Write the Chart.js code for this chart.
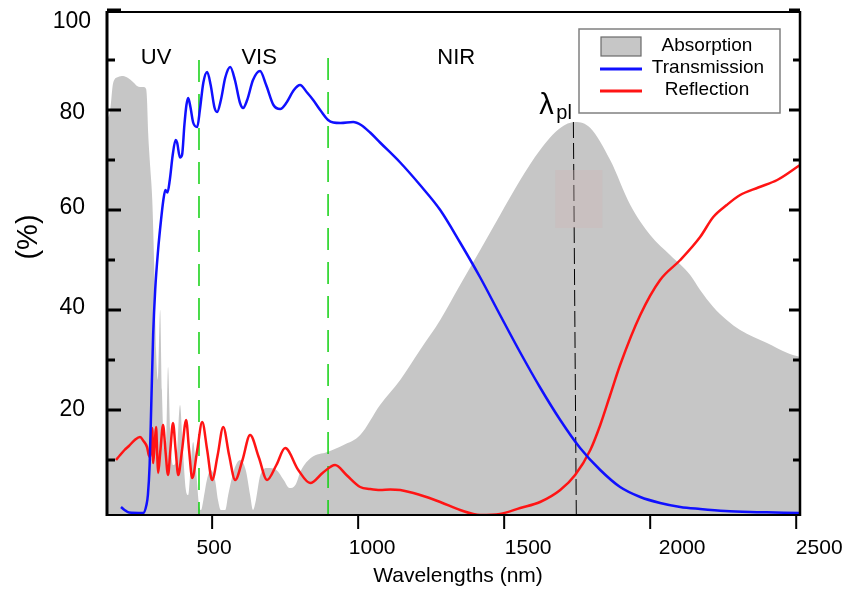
<!DOCTYPE html>
<html><head><meta charset="utf-8">
<script src="https://cdn.jsdelivr.net/npm/chart.js@4/dist/chart.umd.min.js"></script>
<style>html,body{margin:0;padding:0;background:#fff}#wrap{width:848px;height:594px;position:relative}</style>
</head><body><div id="wrap"><canvas id="c" width="848" height="594"></canvas></div>
<script>
// ---- data ----
const absWl  = [140,151,161,178,195,212,229,243,253,264,274,277,281,288,295,302,308,314,322,328,336,343,349,356,366,378,390,400,410,418,428,435,445,455,462,470,482,495,510,520,530,545,555,575,596,615,630,640,650,665,690,720,745,765,785,805,840,894,950,1007,1075,1144,1212,1281,1349,1418,1486,1555,1623,1692,1743,1795,1863,1932,2000,2068,2137,2171,2216,2262,2308,2400,2470,2513];
const absVal = [78,80,85.4,86.6,86.8,86.4,85.6,84.8,84.6,84.6,84.2,82,75.4,68.6,62,48,32,26,40,24,12,14,28.6,16,9,10,21,12,4,3,10,13.6,8,1,0,2,6,8,6,2,0,0,3,8,10,8,3,0,2,7,8.4,8,6,4.4,5,8,10.5,11.6,13,15,21,26,32,38,45,52,59,66,72,76.4,77.6,76.4,70,61,55,51,47,44,40.6,38,36,33.4,31.4,30.6];

const transWl  = [188,200,215,264,275,280,286,292,298,305,315,325,333,340,347,355,365,375,380,390,397,405,412,418,426,435,449,458,470,483,495,508,517,530,545,562,578,595,606,620,640,664,685,710,733,755,780,801,825,846,870,897,915,940,983,1010,1041,1075,1144,1212,1281,1349,1418,1486,1555,1623,1692,1760,1829,1897,1966,2034,2103,2171,2257,2342,2428,2513];
const transVal = [0.6,0,-0.5,-0.6,1,3,9,22,35,44,52,58,62,64,63.5,66,71,74,73.5,70.5,71,77,81,82.4,80.5,77.5,76.6,80,85.5,87.6,85,80.5,79.6,82,86.5,88.6,86,81.5,80.4,82,86,87.8,85,81,80.2,81.5,84,85,83.5,82,80,78,77.5,77.4,77.6,77,75.5,73.5,69.5,65,60,53.5,46.5,39,31.5,24.5,18,12.4,8,4.6,2.6,1.4,0.6,0.2,-0.2,-0.4,-0.5,-0.6];

const reflWl  = [171,185,200,215,235,253,265,277,283,288,291,295,298,303,308,312,315,323,332,340,349,357,366,375,384,397,411,421,432,449,466,483,500,519,538,558,579,604,630,660,688,720,750,795,836,880,921,960,1007,1041,1075,1110,1144,1212,1281,1349,1418,1486,1555,1623,1692,1743,1795,1829,1863,1897,1966,2034,2103,2171,2216,2262,2308,2370,2435,2513];
const reflVal = [10,11,12,12.8,14,14.6,13.8,12.6,11,10.6,13,16.4,9.4,13,16.6,11,7.4,12,17,12,7,12,17.4,12,7,12,18,12,6.4,12,17.6,12,6,11,16.6,11,6,10,15,10.5,6,9,12.4,8,5.4,7.5,9,7,4.6,4.2,4,4.1,4,3,1.6,0,-1,-0.8,0.4,1.6,4,7,12,17,23,29,39,46,50,54.6,58.6,61,63,64.5,66,69];

const seriesNames = ['Absorption','Transmission','Reflection'];
const xTicks = [500,1000,1500,2000,2500];
const yTicks = [20,40,60,80,100];
const yMinorTicks = [10,30,50,70,90];
const regionNames = ['UV','VIS','NIR'];
const regionBounds = [455, 897];     // nm, VIS limits
const peakWl = 1740, peakVal = 77.6; // λpl

// ---- styling / layout (not data) ----
const C_ABS = '#c6c6c6', C_T = '#1010ff', C_R = '#ff1414', C_G = '#10d010';
const FONT = '"Liberation Sans", Arial, sans-serif';
const regionLabelWl = [308, 661, 1336], regionLabelVal = 90.4;
const xLabelDx = [2, 14, 24, 32, 23];
const yLabelDx = [0, 0, 0, 0, 6], yLabelDy = [0, -2, -2, 3, 12];
const boxWl = [1675, 1836], boxVal = [68, 56.4];

const pts = (xs, ys) => xs.map((x, i) => ({x, y: ys[i]}));

const deco = {
  id: 'deco',
  afterDatasetsDraw(chart) {
    const ctx = chart.ctx, a = chart.chartArea, xs = chart.scales.x, ys = chart.scales.y;
    ctx.save();
    // faint box near the peak
    ctx.fillStyle = 'rgba(205,180,180,0.35)';
    const bx1 = xs.getPixelForValue(boxWl[0]), bx2 = xs.getPixelForValue(boxWl[1]);
    const by1 = ys.getPixelForValue(boxVal[0]), by2 = ys.getPixelForValue(boxVal[1]);
    ctx.fillRect(bx1, by1, bx2 - bx1, by2 - by1);
    // frame
    ctx.strokeStyle = '#000';
    ctx.lineWidth = 2;
    ctx.beginPath(); ctx.moveTo(a.left, a.top); ctx.lineTo(a.right, a.top); ctx.stroke();
    ctx.beginPath(); ctx.moveTo(a.left, a.bottom); ctx.lineTo(a.right, a.bottom); ctx.stroke();
    ctx.lineWidth = 3;
    ctx.beginPath(); ctx.moveTo(a.left, a.top - 1); ctx.lineTo(a.left, a.bottom + 1); ctx.stroke();
    ctx.lineWidth = 2.5;
    ctx.beginPath(); ctx.moveTo(a.right, a.top - 1); ctx.lineTo(a.right, a.bottom + 1); ctx.stroke();
    // y ticks (inward) both sides
    ctx.lineWidth = 3;
    yTicks.forEach(v => {
      const y = ys.getPixelForValue(v);
      ctx.beginPath(); ctx.moveTo(a.left, y); ctx.lineTo(a.left + 14, y); ctx.stroke();
      ctx.beginPath(); ctx.moveTo(a.right, y); ctx.lineTo(a.right - 11, y); ctx.stroke();
    });
    yMinorTicks.forEach(v => {
      const y = ys.getPixelForValue(v);
      ctx.beginPath(); ctx.moveTo(a.left, y); ctx.lineTo(a.left + 8, y); ctx.stroke();
      ctx.beginPath(); ctx.moveTo(a.right, y); ctx.lineTo(a.right - 7, y); ctx.stroke();
    });
    // x ticks (outward)
    ctx.lineWidth = 2;
    xTicks.forEach(v => {
      const x = xs.getPixelForValue(v);
      ctx.beginPath(); ctx.moveTo(x, a.bottom); ctx.lineTo(x, a.bottom + 14); ctx.stroke();
    });
    // tick labels
    ctx.fillStyle = '#000';
    ctx.font = '21px ' + FONT;
    ctx.textAlign = 'center'; ctx.textBaseline = 'middle';
    xTicks.forEach((v, i) => ctx.fillText(String(v), xs.getPixelForValue(v) + xLabelDx[i], a.bottom + 33));
    ctx.font = '23px ' + FONT;
    ctx.textAlign = 'right';
    yTicks.forEach((v, i) => ctx.fillText(String(v), 85 + yLabelDx[i], ys.getPixelForValue(v) + yLabelDy[i]));
    // axis titles
    ctx.textAlign = 'center';
    ctx.font = '21px ' + FONT;
    ctx.fillText('Wavelengths (nm)', 458, 576);
    ctx.save();
    ctx.translate(29, 237); ctx.rotate(-Math.PI / 2);
    ctx.font = '29px ' + FONT;
    ctx.fillText('(%)', 0, 0);
    ctx.restore();
    // region labels
    ctx.font = '22px ' + FONT;
    regionNames.forEach((n, i) => ctx.fillText(n, xs.getPixelForValue(regionLabelWl[i]), ys.getPixelForValue(regionLabelVal)));
    // lambda_pl
    const px = xs.getPixelForValue(peakWl);
    ctx.textAlign = 'left'; ctx.textBaseline = 'alphabetic';
    ctx.font = '29px ' + FONT;
    ctx.fillText('λ', px - 35, 114);
    ctx.font = '20px ' + FONT;
    ctx.fillText('pl', px - 18, 119);
    // legend
    ctx.fillStyle = '#fff';
    ctx.fillRect(579, 29, 201, 84);
    ctx.strokeStyle = '#808080'; ctx.lineWidth = 1.5;
    ctx.strokeRect(579, 29, 201, 84);
    ctx.fillStyle = C_ABS; ctx.fillRect(601, 37, 40, 19);
    ctx.strokeStyle = '#6a6a6a'; ctx.lineWidth = 1.2; ctx.strokeRect(601, 37, 40, 19);
    ctx.lineWidth = 3;
    ctx.strokeStyle = C_T; ctx.beginPath(); ctx.moveTo(600, 69); ctx.lineTo(642, 69); ctx.stroke();
    ctx.strokeStyle = C_R; ctx.beginPath(); ctx.moveTo(600, 91); ctx.lineTo(642, 91); ctx.stroke();
    ctx.fillStyle = '#000'; ctx.font = '19px ' + FONT; ctx.textAlign = 'center'; ctx.textBaseline = 'middle';
    ctx.fillText(seriesNames[0], 707, 46);
    ctx.fillText(seriesNames[1], 708, 68);
    ctx.fillText(seriesNames[2], 707, 90);
    ctx.restore();
  }
};

new Chart(document.getElementById('c'), {
  type: 'line',
  data: {
    datasets: [
      {label: seriesNames[1], data: pts(transWl, transVal), borderColor: C_T, borderWidth: 2.5, pointRadius: 0, fill: false, cubicInterpolationMode: 'monotone'},
      {label: seriesNames[2], data: pts(reflWl, reflVal), borderColor: C_R, borderWidth: 2.5, pointRadius: 0, fill: false, cubicInterpolationMode: 'monotone'},
      {label: 'VIS low', data: [{x: regionBounds[0], y: 90}, {x: regionBounds[0], y: -1}], borderColor: C_G, borderWidth: 1.5, borderDash: [22, 12], pointRadius: 0, fill: false},
      {label: 'VIS high', data: [{x: regionBounds[1], y: 90.4}, {x: regionBounds[1], y: -1}], borderColor: C_G, borderWidth: 1.5, borderDash: [22, 12], pointRadius: 0, fill: false},
      {label: 'lambda', data: [{x: peakWl - 3, y: peakVal}, {x: peakWl + 7, y: -1}], borderColor: '#000', borderWidth: 1, borderDash: [16, 5], pointRadius: 0, fill: false},
      {label: seriesNames[0], data: pts(absWl, absVal), borderColor: 'rgba(0,0,0,0)', borderWidth: 0, backgroundColor: C_ABS, pointRadius: 0, fill: 'start', cubicInterpolationMode: 'monotone'}
    ]
  },
  options: {
    responsive: false, animation: false,
    layout: {padding: {left: 107, top: 12, right: 48, bottom: 79}},
    plugins: {legend: {display: false}, tooltip: {enabled: false}},
    scales: {
      x: {type: 'linear', min: 140, max: 2513, display: false},
      y: {type: 'linear', min: -1, max: 99.6, display: false}
    }
  },
  plugins: [deco]
});
</script>
</body></html>
